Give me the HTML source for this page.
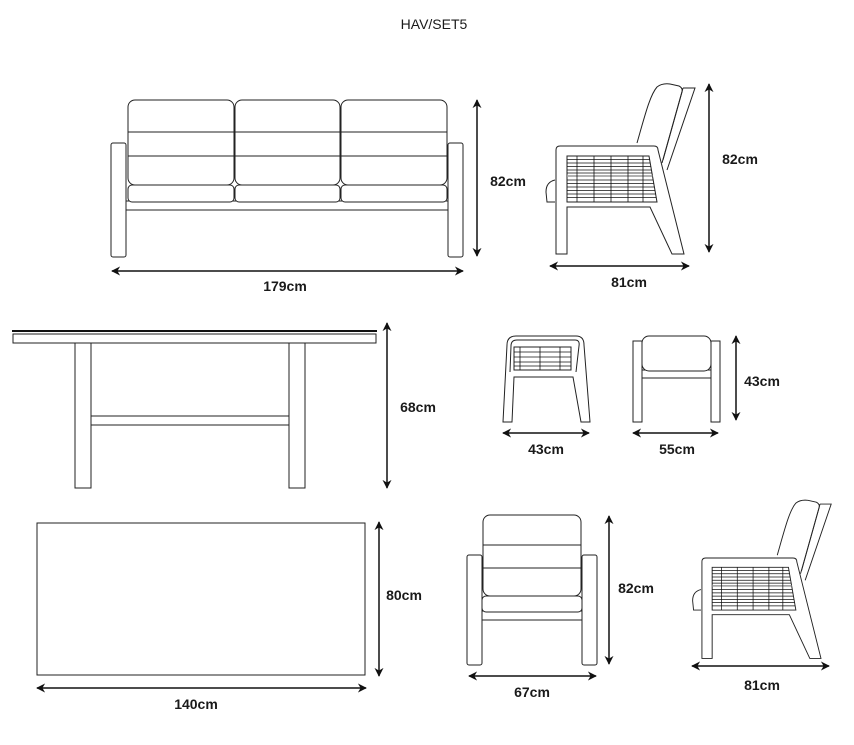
<!DOCTYPE html>
<html><head><meta charset="utf-8"><style>
html,body{margin:0;padding:0;background:#fff;}
svg{display:block;}
text{font-family:"Liberation Sans",sans-serif;fill:#1a1a1a;}
.d{font-weight:bold;font-size:14px;}
</style></head><body>
<svg width="854" height="745" viewBox="0 0 854 745" xmlns="http://www.w3.org/2000/svg">
<defs>
<marker id="a" viewBox="0 0 10 10" refX="9" refY="5" markerWidth="9" markerHeight="9" orient="auto-start-reverse" markerUnits="userSpaceOnUse">
<path d="M0,0 L10,5 L0,10 L3,5 Z" fill="#111"/></marker>
<g id="side">
 <path d="M637,143 C645,115 650,95 657,87 Q662,83 670,84 L679,86 Q683,88 682,92 L663,160" fill="none" stroke="#222" stroke-width="1"/>
 <path d="M683,88 L695,88 L667,170 M683,88 L662,163" fill="none" stroke="#222" stroke-width="1"/>
 <path d="M555,180 Q546,182 546,192 L547,202 L555,202" fill="none" stroke="#222" stroke-width="1"/>
 <path d="M556,254 L556,150 Q556,146 560,146 L654,146 Q658,146 658,150 L684,254 L672,254 L650,207 L567,207 L567,254 Z" fill="#fff" stroke="#222" stroke-width="1"/>
 <path d="M567,156 L649,156 L657,202 L567,202 Z" fill="#fff" stroke="#222" stroke-width="1"/>
 <g stroke="#111" stroke-width="0.8">
  <line x1="567" y1="159.5" x2="649.6" y2="159.5"/><line x1="567" y1="163" x2="650.2" y2="163"/>
  <line x1="567" y1="166.5" x2="650.8" y2="166.5"/><line x1="567" y1="170" x2="651.4" y2="170"/>
  <line x1="567" y1="173" x2="652" y2="173"/><line x1="567" y1="176" x2="652.5" y2="176" stroke="#999" stroke-width="1.5"/>
  <line x1="567" y1="180" x2="653.2" y2="180"/><line x1="567" y1="183.5" x2="653.8" y2="183.5"/>
  <line x1="567" y1="187" x2="654.4" y2="187"/><line x1="567" y1="190.5" x2="655" y2="190.5"/>
  <line x1="567" y1="194" x2="655.6" y2="194"/><line x1="567" y1="197.5" x2="656.2" y2="197.5"/>
  <line x1="577" y1="156" x2="577" y2="202"/><line x1="594" y1="156" x2="594" y2="202"/>
  <line x1="611" y1="156" x2="611" y2="202"/><line x1="628" y1="156" x2="628" y2="202"/>
  <line x1="643" y1="156" x2="643" y2="202"/>
 </g>
</g>
</defs>

<text x="434" y="29" font-size="14" text-anchor="middle">HAV/SET5</text>

<g fill="#fff" stroke="#222" stroke-width="1">
<!-- sofa -->
<rect x="111" y="143" width="15" height="114" rx="2"/>
<rect x="448" y="143" width="15" height="114" rx="2"/>
<rect x="126" y="201" width="322" height="9"/>
<rect x="128" y="185" width="106" height="17" rx="4"/>
<rect x="235" y="185" width="105" height="17" rx="4"/>
<rect x="341" y="185" width="106" height="17" rx="4"/>
<rect x="128" y="100" width="106" height="85" rx="7"/>
<rect x="235" y="100" width="105" height="85" rx="7"/>
<rect x="341" y="100" width="106" height="85" rx="7"/>
<path d="M128,132 H447 M128,156 H447" fill="none"/>

<!-- table side -->
<rect x="13" y="334" width="363" height="9"/>
<rect x="75" y="343" width="16" height="145"/>
<rect x="289" y="343" width="16" height="145"/>
<rect x="91" y="416" width="198" height="9"/>

<!-- table top -->
<rect x="37" y="523" width="328" height="152"/>

<!-- footstool side -->
<path d="M503,422 L507,345 Q507,336 516,336 L576,336 Q584,336 584,345 L590,422 L581,422 L573,377 L514,377 L512,422 Z"/>
<path d="M510,372 L511,346 Q511,340 517,340 L575,340 Q580,340 579,346 L576,372"/>
<rect x="514" y="347" width="57" height="23"/>
<!-- footstool front -->
<rect x="633" y="341" width="9" height="81"/>
<rect x="711" y="341" width="9" height="81"/>
<rect x="642" y="370" width="69" height="8"/>
<rect x="642" y="336" width="69" height="35" rx="7"/>

<!-- front chair -->
<rect x="467" y="555" width="15" height="110" rx="2"/>
<rect x="582" y="555" width="15" height="110" rx="2"/>
<rect x="482" y="611" width="100" height="9"/>
<rect x="482" y="596" width="100" height="16" rx="4"/>
<rect x="483" y="515" width="98" height="81" rx="7"/>
<path d="M483,545 H581 M483,568 H581" fill="none"/>
</g>
<g stroke="#111" stroke-width="0.8">
<line x1="514" y1="352" x2="571" y2="352"/><line x1="514" y1="357" x2="571" y2="357"/>
<line x1="514" y1="362" x2="571" y2="362"/><line x1="514" y1="366" x2="571" y2="366"/>
<line x1="520" y1="347" x2="520" y2="370"/><line x1="540" y1="347" x2="540" y2="370"/><line x1="560" y1="347" x2="560" y2="370"/>
</g>
<line x1="12" y1="331" x2="377" y2="331" stroke="#111" stroke-width="2"/>

<use href="#side"/>
<use href="#side" transform="translate(184.85,422.2) scale(0.93)"/>

<!-- dimensions -->
<g stroke="#111" stroke-width="1.5" marker-start="url(#a)" marker-end="url(#a)">
<line x1="112" y1="271" x2="463" y2="271"/>
<line x1="477" y1="100" x2="477" y2="256"/>
<line x1="550" y1="266" x2="689" y2="266"/>
<line x1="709" y1="84" x2="709" y2="252"/>
<line x1="387" y1="323" x2="387" y2="488"/>
<line x1="379" y1="522" x2="379" y2="676"/>
<line x1="37" y1="688" x2="366" y2="688"/>
<line x1="503" y1="433" x2="589" y2="433"/>
<line x1="633" y1="433" x2="718" y2="433"/>
<line x1="736" y1="336" x2="736" y2="420"/>
<line x1="469" y1="676" x2="596" y2="676"/>
<line x1="609" y1="516" x2="609" y2="664"/>
<line x1="692" y1="666" x2="829" y2="666"/>
</g>
<g class="d" text-anchor="middle">
<text class="d" x="285" y="291">179cm</text>
<text class="d" x="508" y="186">82cm</text>
<text class="d" x="629" y="287">81cm</text>
<text class="d" x="740" y="164">82cm</text>
<text class="d" x="418" y="412">68cm</text>
<text class="d" x="404" y="600">80cm</text>
<text class="d" x="196" y="709">140cm</text>
<text class="d" x="546" y="454">43cm</text>
<text class="d" x="677" y="454">55cm</text>
<text class="d" x="762" y="386">43cm</text>
<text class="d" x="532" y="697">67cm</text>
<text class="d" x="636" y="593">82cm</text>
<text class="d" x="762" y="690">81cm</text>
</g>
</svg>
</body></html>
